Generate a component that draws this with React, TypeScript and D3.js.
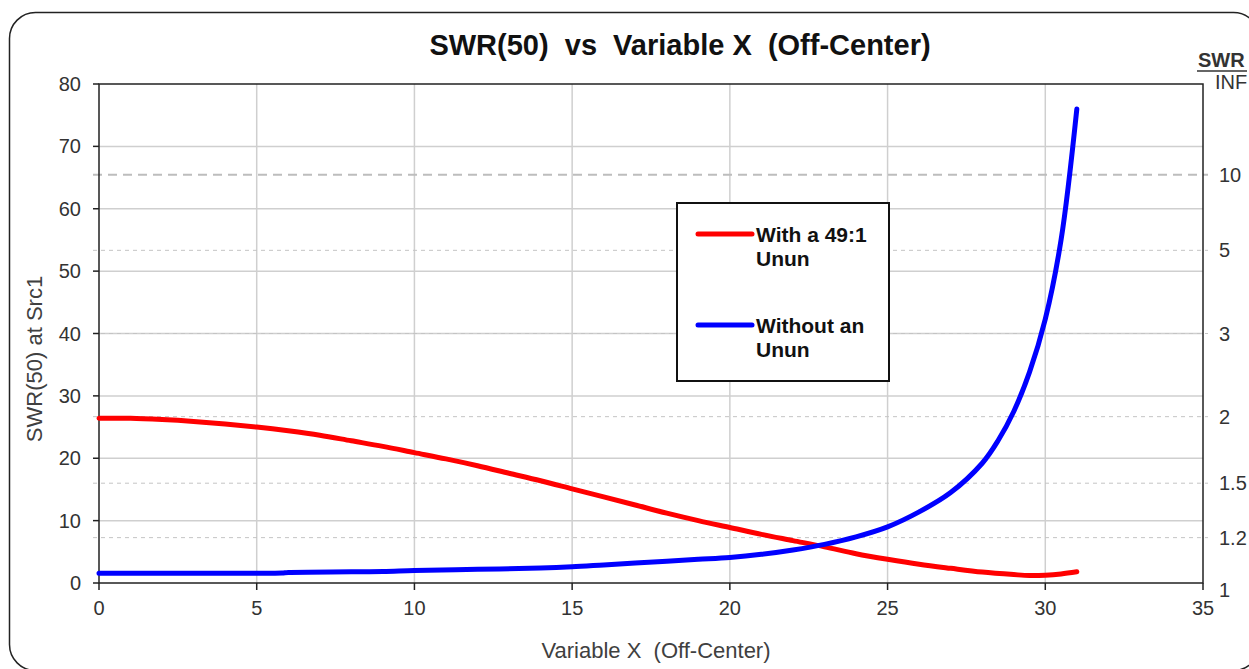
import React from 'react';
import * as d3 from 'd3';

// values
const xRed = [0, 1, 2, 3, 4, 5, 6, 7, 8, 9, 10, 11, 12, 13, 14, 15, 16, 17, 18, 19, 20, 21, 22, 23, 24, 25, 26, 27, 28, 29, 29.5, 30, 30.5, 31];
const yRed = [26.4, 26.4, 26.2, 25.9, 25.5, 25.0, 24.4, 23.7, 22.8, 21.9, 20.9, 19.9, 18.8, 17.6, 16.4, 15.1, 13.8, 12.5, 11.2, 10.0, 8.9, 7.8, 6.8, 5.8, 4.7, 3.8, 3.0, 2.35, 1.75, 1.35, 1.2, 1.25, 1.45, 1.8];
const xBlue = [0, 1, 2, 3, 4, 5, 5.8, 6, 8, 9, 10, 12, 14, 15, 16, 17, 18, 19, 20, 21, 22, 23, 24, 25, 26, 27, 28, 28.5, 29, 29.5, 30, 30.5, 31];
const yBlue = [1.55, 1.55, 1.55, 1.55, 1.55, 1.55, 1.6, 1.7, 1.8, 1.85, 2.0, 2.2, 2.4, 2.6, 2.9, 3.2, 3.5, 3.8, 4.1, 4.6, 5.3, 6.2, 7.4, 9.0, 11.4, 14.5, 19.2, 22.8, 27.5, 33.8, 42.3, 55, 76];
const xTicks = [0, 5, 10, 15, 20, 25, 30, 35];
const yTicks = [0, 10, 20, 30, 40, 50, 60, 70, 80];
const swrTicks = [1.2, 1.5, 2, 3, 5, 10];
const seriesNames = [['With a 49:1', 'Unun'], ['Without an', 'Unun']];
const seriesColors = ['#ff0000', '#0000ff'];

const W = 1249;
const H = 669;
const font = 'Liberation Sans, Arial, sans-serif';

export default function App() {
  const x = d3.scaleLinear().domain([0, 35]).range([99, 1203]);
  const y = d3.scaleLinear().domain([0, 80]).range([583, 84]);
  // right axis: reflection coefficient of the SWR, 1 -> bottom, INF -> top
  const gamma = d3.scaleLinear().domain([0, 1]).range([583, 84]);
  const swrY = (s: number) => gamma((s - 1) / (s + 1));

  const line = d3.line<[number, number]>()
    .x(d => x(d[0]))
    .y(d => y(d[1]))
    .curve(d3.curveCatmullRom.alpha(0.5));

  const red = line(xRed.map((v, i) => [v, yRed[i]] as [number, number])) || '';
  const blue = line(xBlue.map((v, i) => [v, yBlue[i]] as [number, number])) || '';
  const [x0, x1] = x.range();
  const [y0, y1] = y.range();

  return (
    <svg width={W} height={H} style={{ position: 'absolute', left: 0, top: 0, fontFamily: font }}>
      <rect x={0} y={0} width={W} height={H} fill="#fff" />
      <rect x={9.5} y={12.5} width={1250} height={658} rx={26} fill="#fff" stroke="#222" strokeWidth={1.5} />

      <text x={680} y={55} textAnchor="middle" fontSize={29} fontWeight="bold" fill="#111" style={{ whiteSpace: 'pre' }}>
        {'SWR(50)  vs  Variable X  (Off-Center)'}
      </text>

      {/* grid */}
      {yTicks.slice(1, -1).map(t => (
        <line key={'gy' + t} x1={x0} x2={x1} y1={y(t)} y2={y(t)} stroke="#cfcfcf" strokeWidth={1.5} />
      ))}
      {xTicks.slice(1, -1).map(t => (
        <line key={'gx' + t} x1={x(t)} x2={x(t)} y1={y0} y2={y1} stroke="#cfcfcf" strokeWidth={1.5} />
      ))}
      {swrTicks.map(s => (
        <line key={'gs' + s} x1={93} x2={1208} y1={swrY(s)} y2={swrY(s)}
          stroke={s === 10 ? '#bdbdbd' : '#c4c4c4'}
          strokeWidth={s === 10 ? 2 : 1}
          strokeDasharray={s === 10 ? '9,6' : '4,4'} />
      ))}

      {/* frame */}
      <rect x={x0} y={y1} width={x1 - x0} height={y0 - y1} fill="none" stroke="#222" strokeWidth={1.5} />
      {yTicks.map(t => (
        <g key={'ty' + t}>
          <line x1={93} x2={x0} y1={y(t)} y2={y(t)} stroke="#222" strokeWidth={1.5} />
          <text x={81} y={y(t) + 7} textAnchor="end" fontSize={20} fill="#333">{t}</text>
        </g>
      ))}
      {xTicks.map(t => (
        <g key={'tx' + t}>
          <line x1={x(t)} x2={x(t)} y1={y0} y2={y0 + 7} stroke="#222" strokeWidth={1.5} />
          <text x={x(t)} y={615} textAnchor="middle" fontSize={20} fill="#333">{t}</text>
        </g>
      ))}
      {swrTicks.map(s => (
        <text key={'ts' + s} x={1219} y={swrY(s) + 7} fontSize={20} fill="#333">{s}</text>
      ))}
      <text x={1219} y={597} fontSize={20} fill="#333">1</text>
      <text x={1198} y={67} fontSize={20} fontWeight="bold" fill="#333">SWR</text>
      <line x1={1197} x2={1247} y1={71} y2={71} stroke="#333" strokeWidth={1.5} />
      <text x={1215} y={89} fontSize={20} fill="#333">INF</text>

      <text x={656} y={658} textAnchor="middle" fontSize={22} fill="#404040" style={{ whiteSpace: 'pre' }}>
        {'Variable X  (Off-Center)'}
      </text>
      <text transform="translate(42,359) rotate(-90)" textAnchor="middle" fontSize={22} fill="#404040">
        SWR(50) at Src1
      </text>

      {/* series */}
      <path d={red} fill="none" stroke={seriesColors[0]} strokeWidth={5} strokeLinecap="round" strokeLinejoin="round" />
      <path d={blue} fill="none" stroke={seriesColors[1]} strokeWidth={5} strokeLinecap="round" strokeLinejoin="round" />

      {/* legend */}
      <rect x={677} y={203} width={212} height={178} fill="#fff" stroke="#111" strokeWidth={2} />
      {seriesNames.map((lines, i) => {
        const ly = i === 0 ? 234 : 325;
        return (
          <g key={'lg' + i}>
            <line x1={698} x2={752} y1={ly} y2={ly} stroke={seriesColors[i]} strokeWidth={5} strokeLinecap="round" />
            {lines.map((s, j) => (
              <text key={j} x={756} y={ly + 8 + j * 24} fontSize={21} fontWeight="bold" fill="#111">{s}</text>
            ))}
          </g>
        );
      })}
    </svg>
  );
}
